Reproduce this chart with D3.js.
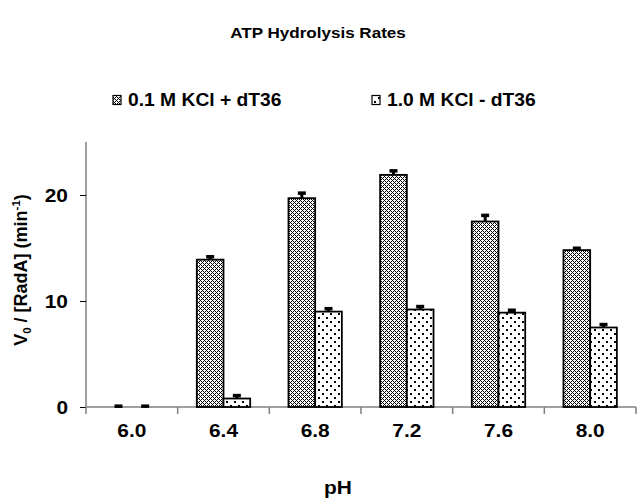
<!DOCTYPE html>
<html><head><meta charset="utf-8">
<script src="https://cdn.jsdelivr.net/npm/d3@7/dist/d3.min.js"></script>
<style>body{margin:0;background:#fff}svg{display:block;font-family:"Liberation Sans",Arial,sans-serif}text{font-family:"Liberation Sans",Arial,sans-serif}</style>
</head><body><svg id="c" width="637" height="500"></svg>
<script>
const categories = ["6.0","6.4","6.8","7.2","7.6","8.0"];
const seriesNames = ["0.1 M KCl + dT36","1.0 M KCl - dT36"];
const series1 = [0, 13.9, 19.7, 21.9, 17.5, 14.8];
const series1Err = [0.1, 0.3, 0.5, 0.4, 0.6, 0.2];
const series2 = [0, 0.8, 9.0, 9.2, 8.9, 7.5];
const series2Err = [0.1, 0.3, 0.3, 0.3, 0.25, 0.3];
const yTicks = [0, 10, 20];

(function(){
const svg = d3.select("#c");
const defs = svg.append("defs");
const p1 = defs.append("pattern").attr("id","p1").attr("width",4).attr("height",4).attr("patternUnits","userSpaceOnUse");
p1.append("rect").attr("width",4).attr("height",4).attr("fill","#fff");
[[0,0],[1,1],[2,2],[3,3],[1,3],[3,1]].forEach(([px,py])=>p1.append("rect").attr("x",px).attr("y",py).attr("width",1).attr("height",1).attr("fill","#000"));
const p2 = defs.append("pattern").attr("id","p2").attr("width",8).attr("height",8).attr("patternUnits","userSpaceOnUse");
p2.append("rect").attr("width",8).attr("height",8).attr("fill","#fff");
[[2,1],[6,5]].forEach(([px,py])=>p2.append("rect").attr("x",px).attr("y",py).attr("width",2).attr("height",2).attr("fill","#000"));

const stretch = 1.1;
function fit(sel){
  sel.each(function(){
    const w = this.getComputedTextLength();
    d3.select(this).attr("textLength", w*stretch).attr("lengthAdjust","spacingAndGlyphs");
  });
}

const mLeft = 86, mRight = 636, mTop = 142, mBottom = 407;
const x = d3.scaleBand().domain(categories).range([mLeft,mRight]).paddingInner(0).paddingOuter(0);
const inner = d3.scaleBand().domain([0,1]).range([0,x.bandwidth()]).paddingInner(0).paddingOuter(0.717);
const y = d3.scaleLinear().domain([0,25]).range([mBottom, mTop]);

const title = svg.append("text").attr("x",318).attr("y",38).attr("text-anchor","middle").attr("font-weight","bold").attr("font-size",15.5).text("ATP Hydrolysis Rates");
fit(title);

const ya = svg.append("g").attr("transform",`translate(${mLeft},0)`).call(d3.axisLeft(y).tickValues(yTicks).tickSize(6).tickPadding(12).tickFormat(d3.format("d")));
ya.attr("font-family",null);
ya.select(".domain").attr("stroke","#808080").attr("stroke-width",1.5).attr("d",`M0,${mTop}V${mBottom}`);
ya.selectAll(".tick line").attr("stroke","#000").attr("stroke-width",1);
ya.selectAll(".tick text").attr("font-size",19).attr("font-weight","bold").attr("fill","#000").attr("dy","0.36em");
fit(ya.selectAll(".tick text"));

const xa = svg.append("g").attr("transform",`translate(0,${mBottom})`).call(d3.axisBottom(x).tickSize(0).tickPadding(17));
xa.attr("font-family",null);
xa.select(".domain").attr("stroke","#808080").attr("stroke-width",1.5).attr("d",`M${mLeft},0H${mRight}`);
xa.selectAll(".tick text").attr("font-size",19).attr("font-weight","bold").attr("fill","#000");
fit(xa.selectAll(".tick text"));
const bounds = categories.map(c=>x(c)).concat([x(categories[categories.length-1])+x.bandwidth()]);
svg.append("g").selectAll("line").data(bounds).join("line")
  .attr("x1",d=>d).attr("x2",d=>d).attr("y1",mBottom).attr("y2",mBottom+7).attr("stroke","#808080").attr("stroke-width",1.5);

const all = [ {vals:series1, err:series1Err, fill:"url(#p1)"}, {vals:series2, err:series2Err, fill:"url(#p2)"} ];
all.forEach((s,si)=>{
  const g = svg.append("g");
  g.selectAll("rect").data(categories).join("rect")
    .attr("x",(c)=>x(c)+inner(si)).attr("width",inner.bandwidth())
    .attr("y",(c,i)=>y(s.vals[i])).attr("height",(c,i)=>mBottom-y(s.vals[i]))
    .attr("fill",s.fill).attr("stroke","#000").attr("stroke-width",1.8);
  const eg = svg.append("g");
  categories.forEach((c,i)=>{
    const cx = x(c)+inner(si)+inner.bandwidth()/2;
    const y0 = y(s.vals[i]), y1 = y(s.vals[i]+s.err[i]);
    eg.append("line").attr("x1",cx).attr("x2",cx).attr("y1",y0).attr("y2",y1).attr("stroke","#000").attr("stroke-width",3);
    eg.append("rect").attr("x",cx-4).attr("width",8).attr("y",y1-1.5).attr("height",3.5).attr("fill","#000");
  });
});

const leg = [{x:113, label:seriesNames[0], fill:"url(#p1)"},{x:372, label:seriesNames[1], fill:"url(#p2)"}];
leg.forEach(l=>{
  svg.append("rect").attr("x",l.x).attr("y",95.5).attr("width",8).attr("height",9).attr("fill",l.fill).attr("stroke","#000").attr("stroke-width",1.2);
  const t = svg.append("text").attr("x",l.x+15).attr("y",106).attr("font-size",17.5).attr("font-weight","bold").text(l.label);
  fit(t);
});

const ph = svg.append("text").attr("x",338).attr("y",494).attr("text-anchor","middle").attr("font-size",19).attr("font-weight","bold").text("pH");
fit(ph);
const yt = svg.append("text").attr("transform","translate(27,270) rotate(-90)").attr("text-anchor","middle").attr("font-size",18).attr("font-weight","bold");
yt.append("tspan").text("V");
yt.append("tspan").attr("font-size",11.5).attr("dy",4).text("0");
yt.append("tspan").attr("dy",-4).text(" / [RadA] (min");
yt.append("tspan").attr("font-size",11.5).attr("dy",-7).text("-1");
yt.append("tspan").attr("dy",7).text(")");
})();
</script></body></html>
